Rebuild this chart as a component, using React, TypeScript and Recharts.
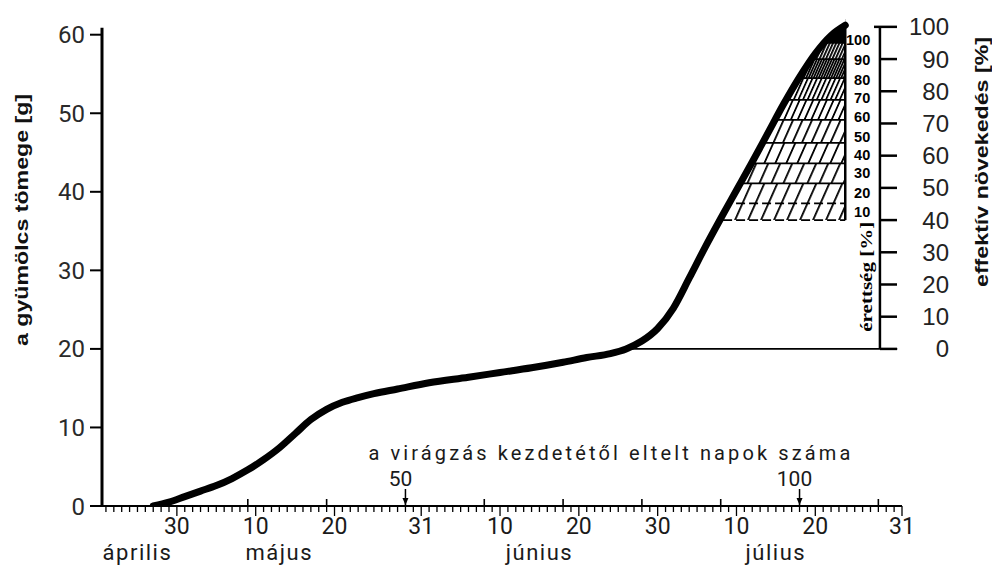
import React from "react";
import {
  ComposedChart,
  Line,
  Area,
  XAxis,
  YAxis,
  ReferenceArea,
  ReferenceLine,
  ReferenceDot,
} from "recharts";

// fruit mass through the season; day = day of year (non-leap, 1 Jan = 1)
const days = [
  117, 119, 121, 123, 125, 127, 129, 131, 133, 135, 137, 139, 141, 143, 145,
  148, 152, 157, 161, 165, 169, 172, 175, 177, 179, 181, 183, 185, 187, 189,
  191, 193, 195, 197, 199, 201, 203, 204.8,
];
const mass = [
  0, 0.5, 1.2, 1.9, 2.6, 3.5, 4.6, 5.9, 7.4, 9.2, 11.0, 12.3, 13.2, 13.8, 14.3,
  14.9, 15.7, 16.4, 17.0, 17.6, 18.3, 18.9, 19.4, 20.0, 21.0, 22.6, 25.2, 29.0,
  32.9, 36.6, 40.2, 43.8, 47.5, 51.2, 54.6, 57.6, 59.9, 61.2,
];

const dateTicks = [120, 130, 140, 151, 161, 171, 181, 191, 201, 212];
const dateLabels = ["30", "10", "20", "31", "10", "20", "30", "10", "20", "31"];
const monthDays = [115, 133, 166, 196];
const monthNames = ["április", "május", "június", "július"];

const massTicks = [0, 10, 20, 30, 40, 50, 60];
const growthTicks = [0, 10, 20, 30, 40, 50, 60, 70, 80, 90, 100];

// days counted from the start of flowering (9 April = day 99)
const bloomStart = 99;
const bloomMarks = [50, 100];

// effective growth (%) where each ripeness band starts
const bandEdges = [40, 45.2, 51.4, 57.6, 64, 71.1, 77.3, 84.1, 90, 95];
const ripeness = [10, 20, 30, 40, 50, 60, 70, 80, 90, 100];
const ripenessAt = [42.5, 48.4, 54.7, 60.2, 65.8, 72, 77.9, 83.5, 89.8, 96];

// horizontal gap of the hatch strokes per band, 0 = solid
const hatchGap = [13, 13, 12, 11, 9.5, 6.8, 4.6, 2.5, 3.2, 0];

const X_MIN = 110.5;
const X_MAX = 212;
const Y_MAX = 62;
const G0 = 20; // mass at 0 % effective growth
const G100 = 61; // mass at 100 % effective growth
const HATCH_FROM = 186;
const RIPE_DAY = days[days.length - 1];
const GROWTH_AXIS_DAY = 209.2;
const GROWTH_LINE_END = 211.4;
const HATCH_ANGLE = 24;

const toMass = (p: number) => G0 + (p / 100) * (G100 - G0);
const toGrowth = (g: number) => ((g - G0) / (G100 - G0)) * 100;

const rows = days.map((day, i) => ({ day, mass: mass[i] }));
const allDays = Array.from({ length: X_MAX - 110 }, (_, i) => 111 + i);

const LETTER = "Roboto, 'DejaVu Sans', sans-serif";
const cosA = Math.cos((HATCH_ANGLE * Math.PI) / 180);

function DayTick(props: any) {
  const { x, y, payload } = props;
  const day = payload.value;
  const di = dateTicks.indexOf(day);
  const mi = monthDays.indexOf(day);
  const bloom = (day - bloomStart) % 10 === 0;
  return (
    <g>
      <line x1={x} x2={x} y1={y} y2={y + (di >= 0 ? 10 : 6)} stroke="#000" strokeWidth={1.3} />
      {bloom && <line x1={x} x2={x} y1={y - 7} y2={y} stroke="#000" strokeWidth={1.6} />}
      {di >= 0 && (
        <text x={x} y={y + 28} textAnchor="middle" fontSize={23} fontFamily={LETTER} fill="#1a1a1a">
          {dateLabels[di]}
        </text>
      )}
      {mi >= 0 && (
        <text
          x={x}
          y={y + 54}
          textAnchor="middle"
          fontSize={22}
          letterSpacing={1.5}
          fontFamily={LETTER}
          fill="#1a1a1a"
        >
          {monthNames[mi]}
        </text>
      )}
    </g>
  );
}

function GrowthTick(props: any) {
  const { x, y, payload } = props;
  const v = payload.value;
  return (
    <g>
      <line x1={x - (v === 100 ? 28 : 22)} x2={x - 5} y1={y} y2={y} stroke="#000" strokeWidth={2.5} />
      <text
        x={x + 47}
        y={y}
        textAnchor="end"
        dominantBaseline="central"
        fontSize={24}
        fontFamily="'Liberation Sans', Arial, sans-serif"
        fill="#222"
      >
        {v}
      </text>
    </g>
  );
}

export default function App() {
  return (
    <div style={{ position: "fixed", left: 0, top: 0, width: 992, height: 569, background: "#fff" }}>
      <ComposedChart
        width={992}
        height={569}
        data={rows}
        margin={{ top: 19, right: 0, bottom: 0, left: 0 }}
      >
        <defs>
          {hatchGap.map((gap, i) =>
            gap > 0 ? (
              <pattern
                key={i}
                id={`ripe${i}`}
                patternUnits="userSpaceOnUse"
                width={gap * cosA}
                height={12}
                patternTransform={`rotate(${HATCH_ANGLE})`}
              >
                <line x1={0.9} y1={0} x2={0.9} y2={12} stroke="#000" strokeWidth={1.8} />
              </pattern>
            ) : null
          )}
        </defs>
        <XAxis
          type="number"
          dataKey="day"
          domain={[X_MIN, X_MAX]}
          allowDataOverflow
          ticks={allDays}
          interval={0}
          tickLine={false}
          tickSize={0}
          tickMargin={0}
          axisLine={{ stroke: "#000", strokeWidth: 2 }}
          height={63}
          tick={DayTick}
        />
        <YAxis
          yAxisId="mass"
          width={102}
          domain={[0, Y_MAX]}
          ticks={massTicks}
          allowDataOverflow
          axisLine={false}
          tickLine={{ stroke: "#000", strokeWidth: 2 }}
          tickSize={12}
          tickMargin={5}
          tick={{ fill: "#2a2a2a", fontSize: 24, fontFamily: LETTER }}
        />
        <YAxis
          yAxisId="growth"
          orientation="right"
          width={90}
          domain={[toGrowth(0), toGrowth(Y_MAX)]}
          ticks={growthTicks}
          allowDataOverflow
          axisLine={false}
          tickLine={false}
          tickSize={0}
          tickMargin={0}
          tick={GrowthTick}
        />

        {/* ripeness bands, trimmed to the curve by the white fill below */}
        {bandEdges.map((p, i) => (
          <ReferenceArea
            key={`band${i}`}
            yAxisId="mass"
            x1={HATCH_FROM}
            x2={RIPE_DAY}
            y1={toMass(p)}
            y2={i < bandEdges.length - 1 ? toMass(bandEdges[i + 1]) : Y_MAX}
            fill={hatchGap[i] > 0 ? `url(#ripe${i})` : "#000"}
            fillOpacity={1}
            stroke="none"
            zIndex={60}
          />
        ))}
        {bandEdges.map((p, i) => (
          <ReferenceLine
            key={`edge${i}`}
            yAxisId="mass"
            segment={[
              { x: HATCH_FROM, y: toMass(p) },
              { x: RIPE_DAY, y: toMass(p) },
            ]}
            stroke="#000"
            strokeWidth={1.8}
            strokeDasharray={i < 2 ? "9 4" : undefined}
            zIndex={70}
          />
        ))}
        <ReferenceLine
          yAxisId="growth"
          segment={[
            { x: 176, y: 0 },
            { x: GROWTH_LINE_END, y: 0 },
          ]}
          stroke="#000"
          strokeWidth={1.8}
          zIndex={70}
        />

        {/* white fill above the curve */}
        <Area
          yAxisId="mass"
          type="monotone"
          dataKey="mass"
          baseValue={Y_MAX}
          fill="#fff"
          fillOpacity={1}
          stroke="none"
          activeDot={false}
          isAnimationActive={false}
          zIndex={80}
        />
        <Line
          yAxisId="mass"
          type="monotone"
          dataKey="mass"
          stroke="#000"
          strokeWidth={7}
          strokeLinecap="round"
          dot={false}
          activeDot={false}
          isAnimationActive={false}
        />

        <ReferenceLine
          yAxisId="mass"
          segment={[
            { x: X_MIN, y: 0 },
            { x: X_MIN, y: 60.9 },
          ]}
          stroke="#000"
          strokeWidth={3}
        />
        <ReferenceLine
          yAxisId="mass"
          segment={[
            { x: RIPE_DAY, y: toMass(bandEdges[0]) },
            { x: RIPE_DAY, y: mass[mass.length - 1] },
          ]}
          stroke="#000"
          strokeWidth={2.5}
        />
        <ReferenceLine
          yAxisId="growth"
          segment={[
            { x: GROWTH_AXIS_DAY, y: 0 },
            { x: GROWTH_AXIS_DAY, y: 100 },
          ]}
          stroke="#000"
          strokeWidth={2.5}
        />

        {ripeness.map((r, i) => (
          <ReferenceDot
            key={`ripe${r}`}
            yAxisId="growth"
            x={RIPE_DAY}
            y={ripenessAt[i]}
            r={0}
            shape={(p: any) => (
              <text
                x={p.cx + 25}
                y={p.cy}
                textAnchor="end"
                dominantBaseline="central"
                fontSize={14.5}
                fontWeight="bold"
                fontFamily="'Liberation Sans', Arial, sans-serif"
                fill="#000"
              >
                {r}
              </text>
            )}
          />
        ))}
        <ReferenceDot
          yAxisId="growth"
          x={RIPE_DAY}
          y={22.4}
          r={0}
          shape={(p: any) => (
            <text
              transform={`translate(${p.cx + 21},${p.cy}) rotate(-90)`}
              textAnchor="middle"
              dominantBaseline="central"
              fontSize={16}
              fontWeight="bold"
              fontFamily="'Liberation Serif', 'DejaVu Serif', serif"
              textLength={110}
              lengthAdjust="spacingAndGlyphs"
              fill="#000"
            >
              érettség [%]
            </text>
          )}
        />

        {bloomMarks.map((n) => (
          <ReferenceDot
            key={`bloom${n}`}
            yAxisId="mass"
            x={bloomStart + n}
            y={0}
            r={0}
            shape={(p: any) => (
              <g>
                <line x1={p.cx} x2={p.cx} y1={p.cy - 17} y2={p.cy - 6} stroke="#000" strokeWidth={1.5} />
                <polygon
                  points={`${p.cx - 3},${p.cy - 8} ${p.cx + 3},${p.cy - 8} ${p.cx},${p.cy - 1}`}
                  fill="#000"
                />
                <text
                  x={p.cx - 5}
                  y={p.cy - 20}
                  textAnchor="middle"
                  fontSize={21}
                  fontFamily={LETTER}
                  fill="#1a1a1a"
                >
                  {n}
                </text>
              </g>
            )}
          />
        ))}
        <ReferenceDot
          yAxisId="mass"
          x={144.3}
          y={5.86}
          r={0}
          shape={(p: any) => (
            <text
              x={p.cx}
              y={p.cy}
              fontSize={20}
              fontFamily={LETTER}
              textLength={482}
              lengthAdjust="spacing"
              fill="#1a1a1a"
            >
              a virágzás kezdetétől eltelt napok száma
            </text>
          )}
        />
      </ComposedChart>

      <svg
        width={992}
        height={569}
        style={{ position: "absolute", left: 0, top: 0, pointerEvents: "none" }}
      >
        <text
          transform="translate(21,220) rotate(-90)"
          textAnchor="middle"
          dominantBaseline="central"
          fontSize={19}
          fontWeight="bold"
          fontFamily="'Liberation Sans', Arial, sans-serif"
          textLength={252}
          lengthAdjust="spacingAndGlyphs"
          fill="#111"
        >
          a gyümölcs tömege [g]
        </text>
        <text
          transform="translate(982,162) rotate(-90)"
          textAnchor="middle"
          dominantBaseline="central"
          fontSize={18}
          fontWeight="bold"
          fontFamily="'Liberation Sans', Arial, sans-serif"
          textLength={250}
          lengthAdjust="spacingAndGlyphs"
          fill="#111"
        >
          effektív növekedés [%]
        </text>
      </svg>
    </div>
  );
}
